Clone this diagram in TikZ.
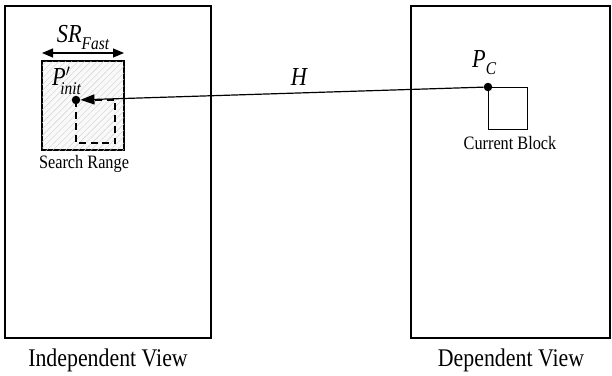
\documentclass[tikz,border=0pt]{standalone}
\usepackage{fontspec}
\setmainfont{Liberation Serif}
\usetikzlibrary{arrows.meta,patterns.meta}
\newcommand\condtxt[1]{\scalebox{0.86}[1]{#1}}
\begin{document}
\begin{tikzpicture}[x=1bp,y=-1bp,
  frame/.style={draw, line width=1.6bp, inner sep=0pt},
  dot/.style={circle, fill=black, inner sep=0pt, minimum size=8.5bp},
  srbox/.style={draw, line width=1.2bp, inner sep=0pt, fill=gray!5,
    postaction={pattern={Lines[angle=45,distance=4.5bp,line width=0.4bp]}, pattern color=gray!38}},
  blockbox/.style={draw, line width=1.2bp, inner sep=0pt},
  big/.style={font=\fontsize{25.5}{26}\selectfont},
  small/.style={font=\fontsize{19}{20}\selectfont},
  mathlbl/.style={font=\fontsize{26}{26}\selectfont\itshape, inner sep=0pt},
  conn/.style={line width=1.2bp}
]
\useasboundingbox (0,0) rectangle (612,375);
% frames
\node[frame, minimum width=206bp, minimum height=332bp] (indep) at (108,172) {};
\node[frame, minimum width=199bp, minimum height=332bp] (dep) at (510.5,172) {};
\node[big] (indeplbl) at (108,360) {\condtxt{Independent View}};
\node[big] (deplbl) at (511,360) {\condtxt{Dependent View}};
% search range
\node[srbox, minimum width=82bp, minimum height=89bp] (srange) at (83,105.5) {};
\node[small, anchor=north] (srlbl) at (84,152) {\condtxt{Search Range}};
\node[dot] (pinit) at (76,100) {};
\draw[dashed, dash pattern=on 7bp off 4.5bp, line width=1.4bp] (pinit.center) rectangle (115,143);
% SR arrow
\coordinate (srl) at (42,53);
\coordinate (srr) at (124,53);
\draw[conn, {Triangle[length=11bp,width=9bp]}-{Triangle[length=11bp,width=9bp]}] (srl) -- (srr);
\node[mathlbl, anchor=base] (srtxt) at (83,42) {\condtxt{SR\raisebox{-0.3em}{\fontsize{18}{18}\selectfont Fast}}};
\node[mathlbl, anchor=base west] (pinittxt) at (52,85) {\condtxt{P$'$\raisebox{-0.35em}{\hspace{-0.45em}\fontsize{18}{18}\selectfont init}}};
% current block
\node[dot] (pc) at (488,87) {};
\node[blockbox, minimum width=39bp, minimum height=42bp, anchor=north west] (cb) at (pc.center) {};
\node[small, anchor=north] (cblbl) at (510,133) {\condtxt{Current Block}};
\node[mathlbl, anchor=base west] (pctxt) at (472,67) {\condtxt{P\raisebox{-0.3em}{\fontsize{18}{18}\selectfont C}}};
% disparity vector
\draw[conn, -{Triangle[length=14bp,width=10bp]}] (pc) -- (pinit);
\node[mathlbl] (htxt) at (299,77) {\condtxt{H}};
\end{tikzpicture}
\end{document}
